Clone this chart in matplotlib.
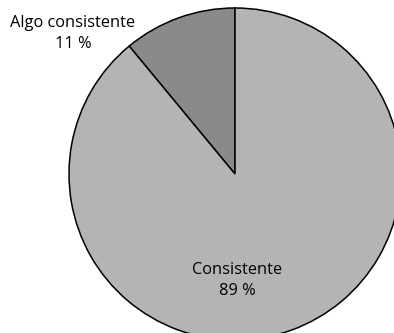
import matplotlib
matplotlib.use("Agg")
import matplotlib.pyplot as plt

categories = ["Algo consistente", "Consistente"]
values = [11, 89]
colors = ["#8a8a8a", "#b5b3b4"]

plt.rcParams['font.family'] = ['Open Sans', 'DejaVu Sans']

fig = plt.figure(figsize=(3.94, 3.33), dpi=100)
ax = fig.add_axes([0, 0, 1, 1])
wedges, _ = ax.pie(values, colors=colors, startangle=90, counterclock=True,
                   radius=1.0, wedgeprops=dict(edgecolor="black", linewidth=1.1))
ax.set_aspect('auto')
ax.set_xlim(-235/166, (394-235)/166)
ax.set_ylim(-(333-174)/166, 174/166)
ax.axis('off')

label_pos = [(-0.976, 0.845), (0.012, -0.64)]
for cat, v, (x, y) in zip(categories, values, label_pos):
    ax.text(x, y, f"{cat}\n{v} %", ha='center', va='center', fontsize=11.8,
            linespacing=1.4, color='black')

fig.savefig("out.png", dpi=100)
